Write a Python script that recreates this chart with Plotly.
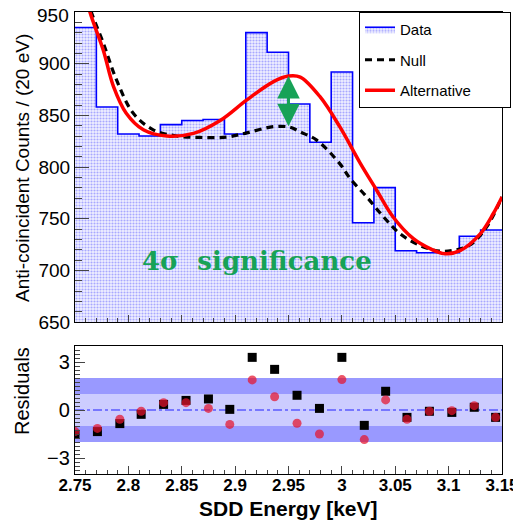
import plotly.graph_objects as go

# histogram (20 eV bins)
bin_lo = [2.75, 2.77, 2.79, 2.81, 2.83, 2.85, 2.87, 2.89, 2.91, 2.93,
          2.95, 2.97, 2.99, 3.01, 3.03, 3.05, 3.07, 3.09, 3.11, 3.13]
bin_hi_last = 3.15
counts = [935, 858, 832, 830, 841, 845, 846, 832, 930, 911,
          861, 824, 892, 746, 780, 719, 717, 717, 733, 739]

# fitted curves
null_x = [2.762, 2.7656, 2.7765, 2.789, 2.8046, 2.8233, 2.8453, 2.8671, 2.8921, 2.9108,
          2.9358, 2.9514, 2.9608, 2.9764, 2.9982, 3.0076, 3.0233, 3.0388, 3.0545, 3.0732,
          3.0919, 3.1044, 3.12, 3.1357, 3.15]
null_y = [962, 949, 920, 884, 852, 836, 830, 828.6, 829, 833,
          839, 838.5, 834, 826, 803, 789, 771, 752, 735.4, 724,
          718.5, 719.3, 724.5, 742, 771]

alt_x = [2.760, 2.764, 2.7765, 2.786, 2.798, 2.814, 2.836, 2.861, 2.886, 2.911,
         2.936, 2.950, 2.961, 2.9795, 2.998, 3.017, 3.0326, 3.048, 3.067, 3.0826,
         3.0966, 3.1107, 3.1294, 3.1419, 3.15]
alt_y = [968, 950, 913, 878, 852, 836, 830, 832.5, 845, 865,
         882.6, 888, 887, 868, 839, 804, 777.5, 751.6, 730.6, 721,
         716, 719, 735, 755, 771]

# residuals
res_x = [2.750, 2.771, 2.792, 2.812, 2.833, 2.854, 2.875, 2.895, 2.916, 2.937,
         2.958, 2.979, 3.000, 3.021, 3.041, 3.061, 3.082, 3.103, 3.124, 3.144]
res_null = [-1.52, -1.35, -0.85, -0.27, 0.35, 0.6, 0.69, 0.04, 3.29, 2.54,
            0.92, 0.1, 3.29, -0.96, 1.17, -0.46, -0.08, -0.15, 0.17, -0.46]
res_alt = [-1.35, -1.15, -0.58, -0.08, 0.46, 0.46, 0.1, -0.9, 1.88, 0.83,
           -0.83, -1.5, 1.9, -1.85, 0.63, -0.58, -0.08, -0.04, 0.27, -0.46]

# tick labels
count_ticks = [650, 700, 750, 800, 850, 900, 950]
energy_ticks = [2.75, 2.8, 2.85, 2.9, 2.95, 3.0, 3.05, 3.1, 3.15]
energy_labels = ['2.75', '2.8', '2.85', '2.9', '2.95', '3', '3.05', '3.1', '3.15']
res_ticks = [-3, 0, 3]
res_labels = ['−3', '0', '3']

GREEN = '#17a257'
FONT = 'Liberation Sans, Arial, sans-serif'

# the page body has an 8px margin, so the figure is drawn 8px smaller
# and positions are given in window pixels minus that offset
OFF = 8
W = H = 521 - OFF


def px(x):
    return (x - OFF) / W


def py(y):
    return 1 - (y - OFF) / H


fig = go.Figure()

# data histogram as filled step line
fig.add_trace(go.Scatter(
    x=bin_lo + [bin_hi_last], y=counts + [counts[-1]],
    mode='lines', line=dict(shape='hv', color='#0000ff', width=1.6),
    fill='tozeroy', fillcolor='rgba(0,0,0,0)',
    fillpattern=dict(shape='.', fgcolor='#a8a8ff', bgcolor='#f0f0ff', size=3, solidity=0.4),
    name='Data', legendgroup='a'))

fig.add_trace(go.Scatter(
    x=null_x, y=null_y, mode='lines',
    line=dict(shape='spline', color='black', width=3.2, dash='7px,5px'),
    name='Null', legendgroup='b'))

# trailing no-break spaces widen the legend box like the original
fig.add_trace(go.Scatter(
    x=alt_x, y=alt_y, mode='lines',
    line=dict(shape='spline', color='#ff0000', width=3.5),
    name='Alternative' + '\u00a0' * 8, legendgroup='c'))

# residual panel
fig.add_trace(go.Scatter(
    x=res_x, y=res_null, mode='markers',
    marker=dict(symbol='square', size=9, color='black'),
    showlegend=False, xaxis='x2', yaxis='y2'))
fig.add_trace(go.Scatter(
    x=res_x, y=res_alt, mode='markers',
    marker=dict(symbol='circle', size=9, color='rgba(228,20,45,0.72)'),
    showlegend=False, xaxis='x2', yaxis='y2'))

# +-2 and +-1 bands, zero line
for y0, y1, c in [(-2, 2, '#9999ff'), (-1, 1, '#ccccff')]:
    fig.add_shape(type='rect', xref='x2', yref='y2', x0=2.75, x1=3.15, y0=y0, y1=y1,
                  fillcolor=c, line=dict(width=0), layer='below')
fig.add_shape(type='line', xref='x2', yref='y2', x0=2.75, x1=3.15, y0=0, y1=0,
              line=dict(color='#5a5aff', width=1.5, dash='dashdot'), layer='below')

# significance arrow and label
fig.add_annotation(x=2.95, y=888, ax=2.95, ay=838, xref='x', yref='y', axref='x', ayref='y',
                   text='', showarrow=True, arrowhead=2, startarrowhead=2, arrowside='end+start',
                   arrowsize=1.5, startarrowsize=1.5, arrowwidth=3, arrowcolor=GREEN)
fig.add_annotation(x=px(257), y=py(261), xref='paper', yref='paper', showarrow=False,
                   xanchor='center', yanchor='middle',
                   text='<b>4σ  significance</b>',
                   font=dict(family='DejaVu Serif', size=26, color=GREEN))

# top tick label sits at the page edge; draw it a few px lower so it is not clipped
fig.add_annotation(x=px(71), y=count_ticks[-1], xref='paper', yref='y', showarrow=False,
                   xanchor='right', yanchor='middle', yshift=-3,
                   text=str(count_ticks[-1]), font=dict(family=FONT, size=19, color='black'))

# axis titles
fig.add_annotation(x=px(22), y=py(168), xref='paper', yref='paper', showarrow=False,
                   xanchor='center', yanchor='middle',
                   text='Anti-coincident Counts / (20 eV)', textangle=-90,
                   font=dict(family=FONT, size=19, color='black'))
fig.add_annotation(x=px(22), y=py(391), xref='paper', yref='paper', showarrow=False,
                   xanchor='center', yanchor='middle',
                   text='Residuals', textangle=-90,
                   font=dict(family=FONT, size=20, color='black'))
fig.add_annotation(x=px(288), y=py(508), xref='paper', yref='paper', showarrow=False,
                   xanchor='center', yanchor='middle',
                   text='<b>SDD Energy [keV]</b>',
                   font=dict(family=FONT, size=21, color='black'))

xdom = [px(75), px(502)]
tick_common = dict(ticks='inside', showline=True, linecolor='black', linewidth=1.2,
                   mirror=True, showgrid=False, zeroline=False, automargin=False,
                   tickcolor='#444', ticklabeloverflow='allow')

fig.update_layout(
    width=W, height=H,
    margin=dict(l=0, r=0, t=0, b=0),
    template='none',
    paper_bgcolor='white', plot_bgcolor='white',
    font=dict(family=FONT, size=19, color='black'),
    xaxis=dict(domain=xdom, range=[2.75, 3.15], anchor='y', showticklabels=False,
               dtick=0.05, tick0=2.75, ticklen=7,
               minor=dict(dtick=0.01, ticks='inside', ticklen=4, tickcolor='#444'),
               **tick_common),
    yaxis=dict(domain=[py(322), py(12)], range=[650, 950], anchor='x',
               tickvals=count_ticks,
               ticktext=[str(v) for v in count_ticks[:-1]] + [''],
               ticklen=14, tickfont=dict(size=19),
               minor=dict(dtick=10, ticks='inside', ticklen=7, tickcolor='#444'),
               **tick_common),
    xaxis2=dict(domain=xdom, range=[2.75, 3.15], anchor='y2',
                ticklen=8, ticklabelstandoff=-5,
                tickvals=energy_ticks,
                ticktext=['<b>%s</b>' % t for t in energy_labels],
                tickfont=dict(size=17),
                minor=dict(dtick=0.01, ticks='inside', ticklen=4, tickcolor='#444'),
                **tick_common),
    yaxis2=dict(domain=[py(474), py(346)], range=[-4, 4], anchor='x2',
                tickvals=res_ticks, ticktext=res_labels, ticklen=10,
                tickfont=dict(size=20),
                minor=dict(dtick=0.25, ticks='inside', ticklen=5, tickcolor='#444'),
                **tick_common),
    legend=dict(x=px(359), y=py(12), xanchor='left', yanchor='top',
                bgcolor='white', bordercolor='black', borderwidth=1,
                font=dict(family=FONT, size=15), tracegroupgap=8, itemwidth=30,
                traceorder='grouped'),
)

fig.write_html('out.html')
